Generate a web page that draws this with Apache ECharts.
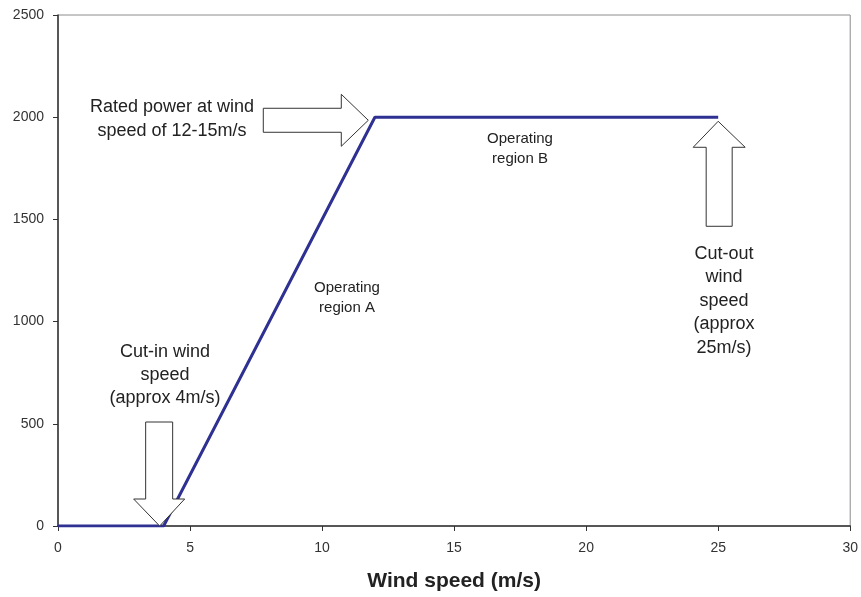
<!DOCTYPE html>
<html><head><meta charset="utf-8">
<script src="https://cdn.jsdelivr.net/npm/echarts@6/dist/echarts.min.js"></script>
<style>html,body{margin:0;padding:0;background:#fff}#c{width:861px;height:597px}</style>
</head><body><div id="c"></div>
<script>
var windSpeed = [0, 4, 12, 25];
var power = [0, 0, 2000, 2000];
var xTicks = [0, 5, 10, 15, 20, 25, 30];
var yTicks = [0, 500, 1000, 1500, 2000, 2500];
var xTitle = 'Wind speed (m/s)';

var chart = echarts.init(document.getElementById('c'), null, {renderer: 'canvas'});
var FONT = "'Liberation Sans',Arial,sans-serif";
var option = {
  animation: false,
  grid: {left: 58, right: 10, top: 15, bottom: 70, show: true, borderColor: '#8c8c8c', borderWidth: 1},
  xAxis: {
    type: 'value', min: 0, max: 30, interval: 5,
    name: xTitle, nameLocation: 'middle', nameGap: 45,
    nameTextStyle: {fontFamily: FONT, fontWeight: 'bold', fontSize: 21, color: '#222'},
    axisLine: {show: true, onZero: false, lineStyle: {color: '#333', width: 1.5}},
    axisTick: {show: true, length: 5, lineStyle: {color: '#333'}},
    axisLabel: {fontFamily: FONT, fontSize: 14, color: '#333', margin: 15,
      formatter: function (v) { return String(v); }},
    splitLine: {show: false}
  },
  yAxis: {
    type: 'value', min: 0, max: 2500, interval: 500,
    axisLine: {show: true, lineStyle: {color: '#333', width: 1.5}},
    axisTick: {show: true, length: 5, lineStyle: {color: '#333'}},
    axisLabel: {fontFamily: FONT, fontSize: 14, color: '#333', margin: 14,
      formatter: function (v) { return String(v); }},
    splitLine: {show: false}
  },
  series: [{
    type: 'line', data: windSpeed.map(function (x, i) { return [x, power[i]]; }),
    symbol: 'none', lineStyle: {color: '#2e3192', width: 3}, z: 2
  }]
};
chart.setOption(option);

function px(x, y) { return chart.convertToPixel({gridIndex: 0}, [x, y]); }
var arrowStyle = {fill: '#fff', stroke: '#333', lineWidth: 1};
function txt(x, y, text, size, lh) {
  return {type: 'text', x: x, y: y, z: 10, style: {text: text, fontFamily: FONT, fontSize: size, lineHeight: lh,
    fill: '#222', align: 'center', verticalAlign: 'middle'}};
}
var tRated = px(11.75, 1985);
var tIn = px(3.85, 0);
var tOut = px(25, 1980);
var g = [];
(function () {
  var tx = tRated[0], ty = tRated[1];
  g.push({type: 'polygon', z: 5, shape: {points: [
    [tx - 105, ty - 12], [tx - 27, ty - 12], [tx - 27, ty - 26], [tx, ty],
    [tx - 27, ty + 26], [tx - 27, ty + 12], [tx - 105, ty + 12]]}, style: arrowStyle});
})();
(function () {
  var tx = tIn[0], ty = tIn[1];
  g.push({type: 'polygon', z: 5, shape: {points: [
    [tx - 14, ty - 104], [tx + 13, ty - 104], [tx + 13, ty - 27], [tx + 25, ty - 27], [tx, ty],
    [tx - 26, ty - 27], [tx - 14, ty - 27]]}, style: arrowStyle});
})();
(function () {
  var tx = tOut[0], ty = tOut[1];
  g.push({type: 'polygon', z: 5, shape: {points: [
    [tx, ty], [tx + 27, ty + 26], [tx + 14, ty + 26], [tx + 14, ty + 105], [tx - 12, ty + 105],
    [tx - 12, ty + 26], [tx - 25, ty + 26]]}, style: arrowStyle});
})();
g.push(txt(172, 119, 'Rated power at wind\nspeed of 12-15m/s', 18, 24));
g.push(txt(165, 375, 'Cut-in wind\nspeed\n(approx 4m/s)', 18, 23));
g.push(txt(724, 301, 'Cut-out\nwind\nspeed\n(approx\n25m/s)', 18, 23.5));
g.push(txt(347, 298, 'Operating\nregion A', 15, 20));
g.push(txt(520, 149, 'Operating\nregion B', 15, 20));
chart.setOption({graphic: g});
</script>
</body></html>
